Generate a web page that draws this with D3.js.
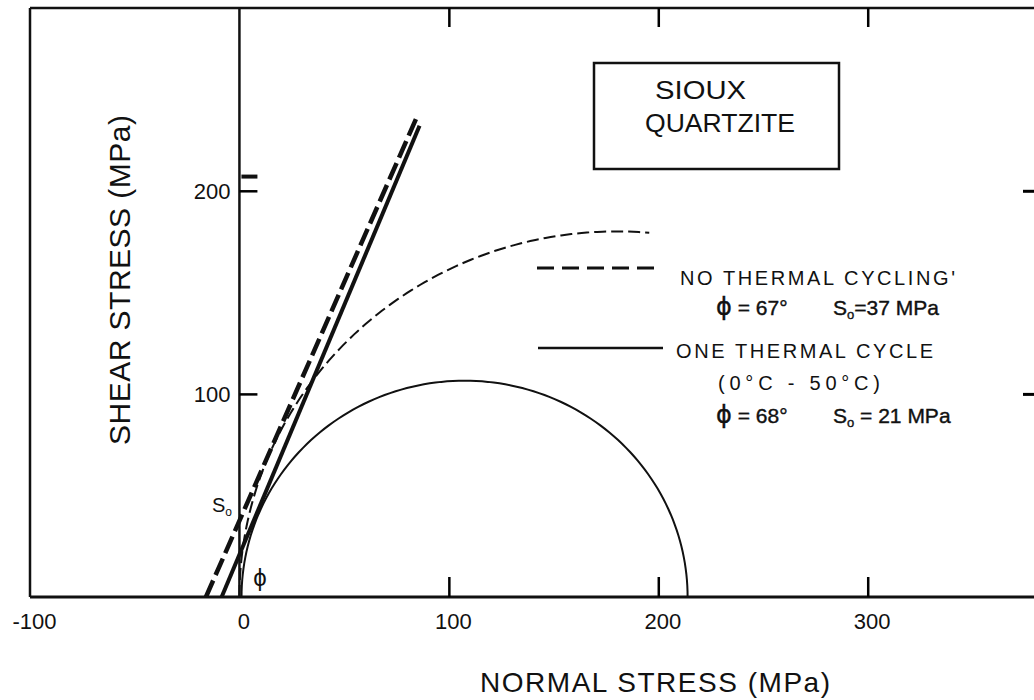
<!DOCTYPE html>
<html>
<head>
<meta charset="utf-8">
<script src="https://cdn.jsdelivr.net/npm/d3@7"></script>
<style>
body { margin: 0; background: #fff; }
text { font-family: "Liberation Sans", Arial, sans-serif; fill: #111; }
</style>
</head>
<body>
<svg width="1034" height="700"></svg>
<script>
var svg = d3.select("svg"),
    width = +svg.attr("width"),
    height = +svg.attr("height");

// Data
var xTicks = [-100, 0, 100, 200, 300];
var yTicks = [100, 200];
var innerTicks = [100, 200, 300];

// Coulomb envelopes: [sigma, tau] end points
var envNoCycle = [[-16, 0], [85, 237]];
var envOneCycle = [[-8.5, 0], [86, 232]];

// Mohr circles: centre, radius, start/end angle (deg)
var circleNoCycle = {c: 180, r: 180, from: 180, to: 85};
var circleOneCycle = {c: 107.5, r: 106.5, from: 180, to: 0};

var legendNames = ["NO THERMAL CYCLING'", "ONE THERMAL CYCLE"];
var legendPhi = ["67°", "68°"];
var legendS0 = ["=37 MPa", " = 21 MPa"];

// Scales
var x = d3.scaleLinear().domain([-100, 379.4]).range([30, 1034]);
var y = d3.scaleLinear().domain([0, 290]).range([597, 8]);

var line = d3.line()
    .x(function(d) { return x(d[0]); })
    .y(function(d) { return y(d[1]); });

function arcPoints(o) {
    return d3.range(0, 121).map(function(i) {
        var a = (o.from + (o.to - o.from) * i / 120) * Math.PI / 180;
        return [o.c + o.r * Math.cos(a), o.r * Math.sin(a)];
    });
}

// Frame
var frame = svg.append("g").attr("stroke", "#111").attr("fill", "none");
frame.append("line").attr("x1", x(-100)).attr("x2", width).attr("y1", y(290)).attr("y2", y(290)).attr("stroke-width", 2.5);
frame.append("line").attr("x1", x(-100)).attr("x2", x(-100)).attr("y1", y(290)).attr("y2", y(0)).attr("stroke-width", 2.5);
frame.append("line").attr("x1", x(-100)).attr("x2", width).attr("y1", y(0)).attr("y2", y(0)).attr("stroke-width", 3);
frame.append("line").attr("x1", x(0)).attr("x2", x(0)).attr("y1", y(290)).attr("y2", y(0)).attr("stroke-width", 2.5);

// Axes (bottom labels + inward ticks)
var xAxis = d3.axisBottom(x).tickValues(xTicks).tickSize(0).tickPadding(16);
var gx = svg.append("g").attr("transform", "translate(0," + y(0) + ")").call(xAxis);
gx.select(".domain").remove();
gx.selectAll("text").attr("font-size", 22).attr("dx", 4).text(function(d) { return d; });

svg.append("g").attr("transform", "translate(0," + y(0) + ")")
    .call(d3.axisTop(x).tickValues(innerTicks).tickSize(20).tickFormat(""))
    .call(function(g) { g.select(".domain").remove(); g.selectAll("line").attr("stroke-width", 2.5); });
svg.append("g").attr("transform", "translate(0," + y(290) + ")")
    .call(d3.axisBottom(x).tickValues(innerTicks).tickSize(19).tickFormat(""))
    .call(function(g) { g.select(".domain").remove(); g.selectAll("line").attr("stroke-width", 2.5); });

var yAxis = d3.axisRight(y).tickValues(yTicks).tickSize(18).tickFormat("");
svg.append("g").attr("transform", "translate(" + x(0) + ",0)").call(yAxis)
    .call(function(g) { g.select(".domain").remove(); g.selectAll("line").attr("stroke-width", 2.5); });
// doubled mark above 200 as in the print
svg.append("line").attr("x1", x(0) + 2).attr("x2", x(0) + 18)
    .attr("y1", y(207)).attr("y2", y(207)).attr("stroke", "#111").attr("stroke-width", 4);
svg.append("g").selectAll("text").data(yTicks).enter().append("text")
    .attr("x", x(0) - 9).attr("y", function(d) { return y(d) + 8; })
    .attr("text-anchor", "end").attr("font-size", 22).text(function(d) { return d; });
svg.append("g").attr("transform", "translate(" + width + ",0)")
    .call(d3.axisLeft(y).tickValues(yTicks).tickSize(11).tickFormat(""))
    .call(function(g) { g.select(".domain").remove(); g.selectAll("line").attr("stroke-width", 3); });

// Mohr circles
svg.append("path").datum(arcPoints(circleNoCycle)).attr("d", line)
    .attr("fill", "none").attr("stroke", "#111").attr("stroke-width", 2).attr("stroke-dasharray", "12,5");
svg.append("path").datum(arcPoints(circleOneCycle)).attr("d", line)
    .attr("fill", "none").attr("stroke", "#111").attr("stroke-width", 2);

// Envelopes
svg.append("path").datum(envNoCycle).attr("d", line)
    .attr("fill", "none").attr("stroke", "#111").attr("stroke-width", 4.5).attr("stroke-dasharray", "18,6");
svg.append("path").datum(envOneCycle).attr("d", line)
    .attr("fill", "none").attr("stroke", "#111").attr("stroke-width", 4);

// Small labels at origin
var so = svg.append("text").attr("x", 212).attr("y", 512).attr("font-size", 20);
so.append("tspan").text("S");
so.append("tspan").attr("font-size", 12).attr("dy", 4).text("o");
svg.append("text").attr("x", 260).attr("y", 586).attr("text-anchor", "middle")
    .attr("font-family", "DejaVu Sans").attr("font-size", 24).text("ϕ");

// Title box
svg.append("rect").attr("x", 594).attr("y", 63).attr("width", 245).attr("height", 106)
    .attr("fill", "none").attr("stroke", "#111").attr("stroke-width", 2.5);
svg.append("text").attr("x", 655).attr("y", 99).attr("font-size", 25)
    .attr("textLength", 91).attr("lengthAdjust", "spacingAndGlyphs").text("SIOUX");
svg.append("text").attr("x", 645).attr("y", 132).attr("font-size", 25)
    .attr("textLength", 150).attr("lengthAdjust", "spacingAndGlyphs").text("QUARTZITE");

// Legend
svg.append("line").attr("x1", 537).attr("x2", 660).attr("y1", 268).attr("y2", 268)
    .attr("stroke", "#111").attr("stroke-width", 3).attr("stroke-dasharray", "17,8");
svg.append("line").attr("x1", 538).attr("x2", 663).attr("y1", 348).attr("y2", 348)
    .attr("stroke", "#111").attr("stroke-width", 2.5);

svg.append("text").attr("x", 680).attr("y", 285).attr("font-size", 20)
    .attr("textLength", 275).attr("lengthAdjust", "spacing").text(legendNames[0]);
svg.append("text").attr("x", 676).attr("y", 358).attr("font-size", 20)
    .attr("textLength", 257).attr("lengthAdjust", "spacing").text(legendNames[1]);
svg.append("text").attr("x", 718).attr("y", 390).attr("font-size", 20)
    .attr("textLength", 162).attr("lengthAdjust", "spacing").text("(0°C - 50°C)");

[315, 423].forEach(function(yy, i) {
    var t = svg.append("text").attr("x", 716).attr("y", yy).attr("font-size", 21)
        .attr("stroke", "#111").attr("stroke-width", 0.4);
    t.append("tspan").attr("font-family", "DejaVu Sans").attr("font-size", 24).text("ϕ");
    t.append("tspan").text(" = " + legendPhi[i]);
    var s = svg.append("text").attr("x", 833).attr("y", yy).attr("font-size", 21)
        .attr("stroke", "#111").attr("stroke-width", 0.4);
    s.append("tspan").text("S");
    s.append("tspan").attr("font-size", 13).attr("dy", 4).text("o");
    s.append("tspan").attr("dy", -4).text(legendS0[i]);
});

// Axis titles
svg.append("text").attr("transform", "translate(130,280) rotate(-90)")
    .attr("text-anchor", "middle").attr("font-size", 30)
    .attr("textLength", 330).attr("lengthAdjust", "spacing").text("SHEAR STRESS (MPa)");
svg.append("text").attr("x", 655).attr("y", 692)
    .attr("text-anchor", "middle").attr("font-size", 28)
    .attr("textLength", 350).attr("lengthAdjust", "spacing").text("NORMAL STRESS (MPa)");
</script>
</body>
</html>
